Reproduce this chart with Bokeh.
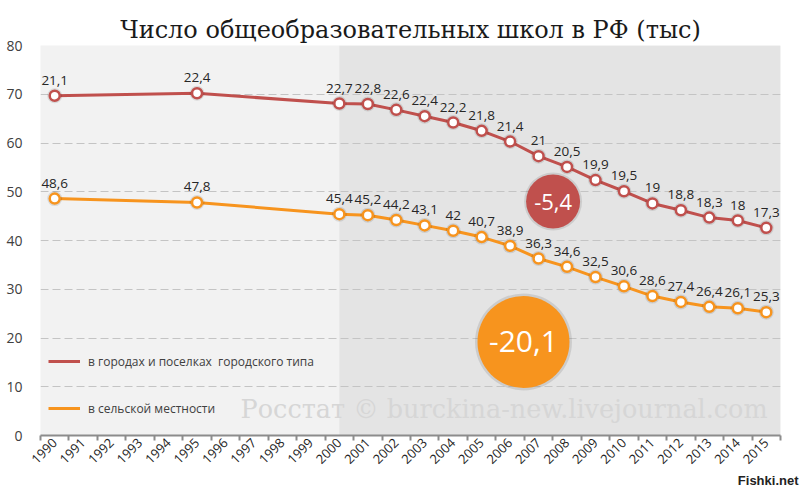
import math
from bokeh.plotting import figure
from bokeh.models import (Range1d, FixedTicker, Legend, LegendItem, BoxAnnotation,
                          Label, ColumnDataSource, Title)
from bokeh.embed import file_html
from bokeh.resources import INLINE

# ---- data ----
axis_years = list(range(1990, 2016))
tick_labels = [str(y) for y in axis_years]
years = [1990, 1995, 2000, 2001, 2002, 2003, 2004, 2005, 2006, 2007,
         2008, 2009, 2010, 2011, 2012, 2013, 2014, 2015]
urban = [21.1, 22.4, 22.7, 22.8, 22.6, 22.4, 22.2, 21.8, 21.4, 21.0,
         20.5, 19.9, 19.5, 19.0, 18.8, 18.3, 18.0, 17.3]
rural = [48.6, 47.8, 45.4, 45.2, 44.2, 43.1, 42.0, 40.7, 38.9, 36.3,
         34.6, 32.5, 30.6, 28.6, 27.4, 26.4, 26.1, 25.3]
urban_name = "в городах и поселках  городского типа"
rural_name = "в сельской местности"
urban_change = "-5,4"
rural_change = "-20,1"
title_text = "Число общеобразовательных школ в РФ (тыс)"

RED = "#c0504d"
ORANGE = "#f7941e"


def fmt(v):
    return f"{v:g}".replace(".", ",")


stacked = [r + u for r, u in zip(rural, urban)]
src_u = ColumnDataSource(dict(x=years, y=stacked, t=[fmt(v) for v in urban]))
src_r = ColumnDataSource(dict(x=years, y=rural, t=[fmt(v) for v in rural]))

p = figure(width=800, height=487, x_range=Range1d(1989.5, 2015.5), y_range=Range1d(0, 80),
           output_backend="svg", toolbar_location=None,
           min_border_left=40, min_border_right=20, min_border_top=45, min_border_bottom=50)
p.background_fill_color = "#f2f2f2"
p.border_fill_color = "white"
p.outline_line_color = None

p.title.text = title_text
p.title.text_font = "DejaVu Serif"
p.title.text_font_size = "24px"
p.title.text_font_style = "normal"
p.title.text_color = "#1a1a1a"
p.title.align = "center"
p.title.standoff = 4

# shaded area from 2000
p.add_layout(BoxAnnotation(left=2000, fill_color="#e4e4e4", fill_alpha=1.0,
                           line_color=None, level="image"))

# axes
p.xaxis.ticker = FixedTicker(ticks=axis_years, minor_ticks=[y - 0.5 for y in axis_years] + [2015.5])
p.xaxis.major_label_overrides = {y: s for y, s in zip(axis_years, tick_labels)}
p.xaxis.major_label_orientation = math.pi / 4
p.xaxis.major_tick_out = 0
p.xaxis.major_tick_in = 0
p.xaxis.minor_tick_out = 5
p.xaxis.minor_tick_in = 0
p.xaxis.minor_tick_line_color = "#8c8c8c"
p.xaxis.minor_tick_line_width = 2
p.xaxis.axis_line_color = "#8c8c8c"
p.xaxis.axis_line_width = 2
p.xaxis.major_label_text_font = "Open Sans"
p.xaxis.major_label_text_font_size = "13px"
p.xaxis.major_label_text_font_style = "normal"
p.xaxis.major_label_text_color = "#1f1f1f"
p.xaxis.major_label_standoff = 0

p.yaxis.ticker = FixedTicker(ticks=list(range(0, 81, 10)))
p.yaxis.axis_line_color = None
p.yaxis.major_tick_line_color = None
p.yaxis.minor_tick_line_color = None
p.yaxis.major_label_text_font = "Open Sans"
p.yaxis.major_label_text_font_size = "14px"
p.yaxis.major_label_text_color = "#404040"
p.yaxis.major_label_standoff = 12

p.xgrid.grid_line_color = None
p.ygrid.grid_line_color = "#c4c4c4"
p.ygrid.grid_line_dash = "8 4"
p.ygrid.grid_line_width = 1

# lines
lu = p.line("x", "y", source=src_u, line_color=RED, line_width=3)
lr = p.line("x", "y", source=src_r, line_color=ORANGE, line_width=3)
for src, col in ((src_u, RED), (src_r, ORANGE)):
    p.scatter("x", "y", source=src, size=15, fill_color="black", fill_alpha=0.10, line_color=None)
    p.scatter("x", "y", source=src, size=10, fill_color="white", line_color=col, line_width=2.5)
    p.text("x", "y", text="t", source=src, text_align="center", text_baseline="bottom",
           y_offset=-11, text_font_size="13.5px", text_color="#262626",
           text_font={"value": "Open Sans"})

# big change circles
circ = ColumnDataSource(dict(x=[2007.51, 2006.47], y=[48.0, 19.2], s=[54, 92],
                             sh=[58, 97], c=[RED, ORANGE], t=[urban_change, rural_change],
                             fs=["22px", "30px"]))
p.scatter("x", "y", source=circ, size="sh", fill_color="black", fill_alpha=0.10,
          line_color=None)
p.scatter("x", "y", source=circ, size="s", fill_color="c", line_color=None)
p.text("x", "y", text="t", source=circ, text_align="center", text_baseline="middle",
       text_color="white", text_font_size="fs", text_font={"value": "Open Sans"})

# legend
legend = Legend(items=[LegendItem(label=urban_name, renderers=[lu]),
                       LegendItem(label=rural_name, renderers=[lr])],
                location=(8, 17), background_fill_alpha=0, border_line_alpha=0,
                padding=0, margin=0, spacing=27, label_height=20, glyph_height=20,
                glyph_width=32, label_standoff=8, label_text_font="Open Sans",
                label_text_font_size="12px", label_text_color="#404040")
p.add_layout(legend)

# watermarks
p.add_layout(Label(x=1996.53, y=5.5, text="Росстат © burckina-new.livejournal.com",
                   text_font="DejaVu Serif", text_font_size="25.5px", text_color="#d6d6d6",
                   text_baseline="middle"))
p.add_layout(Title(text="Fishki.net", align="right", text_font="Liberation Sans",
                   text_font_size="13px", text_font_style="bold", text_color="#222222",
                   standoff=0, offset=-18), "below")

open("out.html", "w").write(file_html(p, INLINE))
